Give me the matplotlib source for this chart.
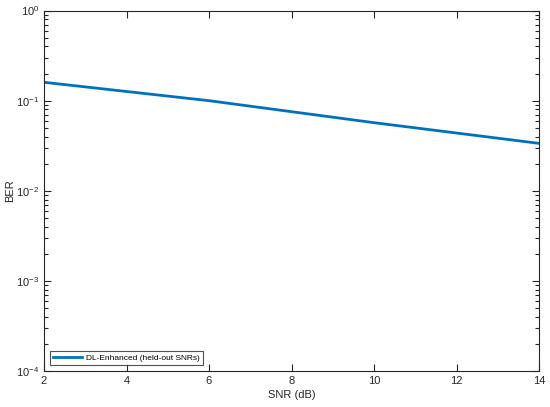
import matplotlib
matplotlib.use("Agg")
import matplotlib.pyplot as plt
from matplotlib.ticker import LogLocator, LogFormatterMathtext

# data
snr_db = [2, 6, 10, 14]
ber = [0.16, 0.1, 0.057, 0.0336]
series_label = "DL-Enhanced (held-out SNRs)"

plt.rcParams['font.family'] = ['Liberation Sans', 'DejaVu Sans']
plt.rcParams['font.size'] = 8

fig = plt.figure(figsize=(5.5, 4.07), dpi=100)
ax = fig.add_axes([0.08, 0.0885, 0.9, 0.8855])

ax.plot(snr_db, ber, color='#0072BD', linewidth=2, label=series_label)

ax.set_yscale('log')
ax.set_xlim(2, 14)
ax.set_ylim(1e-4, 1)
ax.set_xticks([2, 4, 6, 8, 10, 12, 14])
ax.yaxis.set_major_locator(LogLocator(base=10, numticks=10))
ax.yaxis.set_major_formatter(LogFormatterMathtext())
ax.yaxis.set_minor_locator(LogLocator(base=10, subs=range(2, 10), numticks=10))

axcol = '#262626'
for s in ax.spines.values():
    s.set_color(axcol)
    s.set_linewidth(0.8)
ax.tick_params(which='both', direction='in', top=True, right=True, colors=axcol,
               labelcolor=axcol, width=0.8)
ax.tick_params(which='major', length=5)
ax.tick_params(which='minor', length=3)

ax.set_xlabel("SNR (dB)", color=axcol, labelpad=3)
ax.set_ylabel("BER", color=axcol, labelpad=0.5)

leg = ax.legend(loc='lower left', fancybox=False, edgecolor=axcol, fontsize=6,
                handlelength=3.5, borderpad=0.35, borderaxespad=0.7, handletextpad=0.5)
leg.get_frame().set_linewidth(0.8)

fig.savefig("out.png", dpi=100)
